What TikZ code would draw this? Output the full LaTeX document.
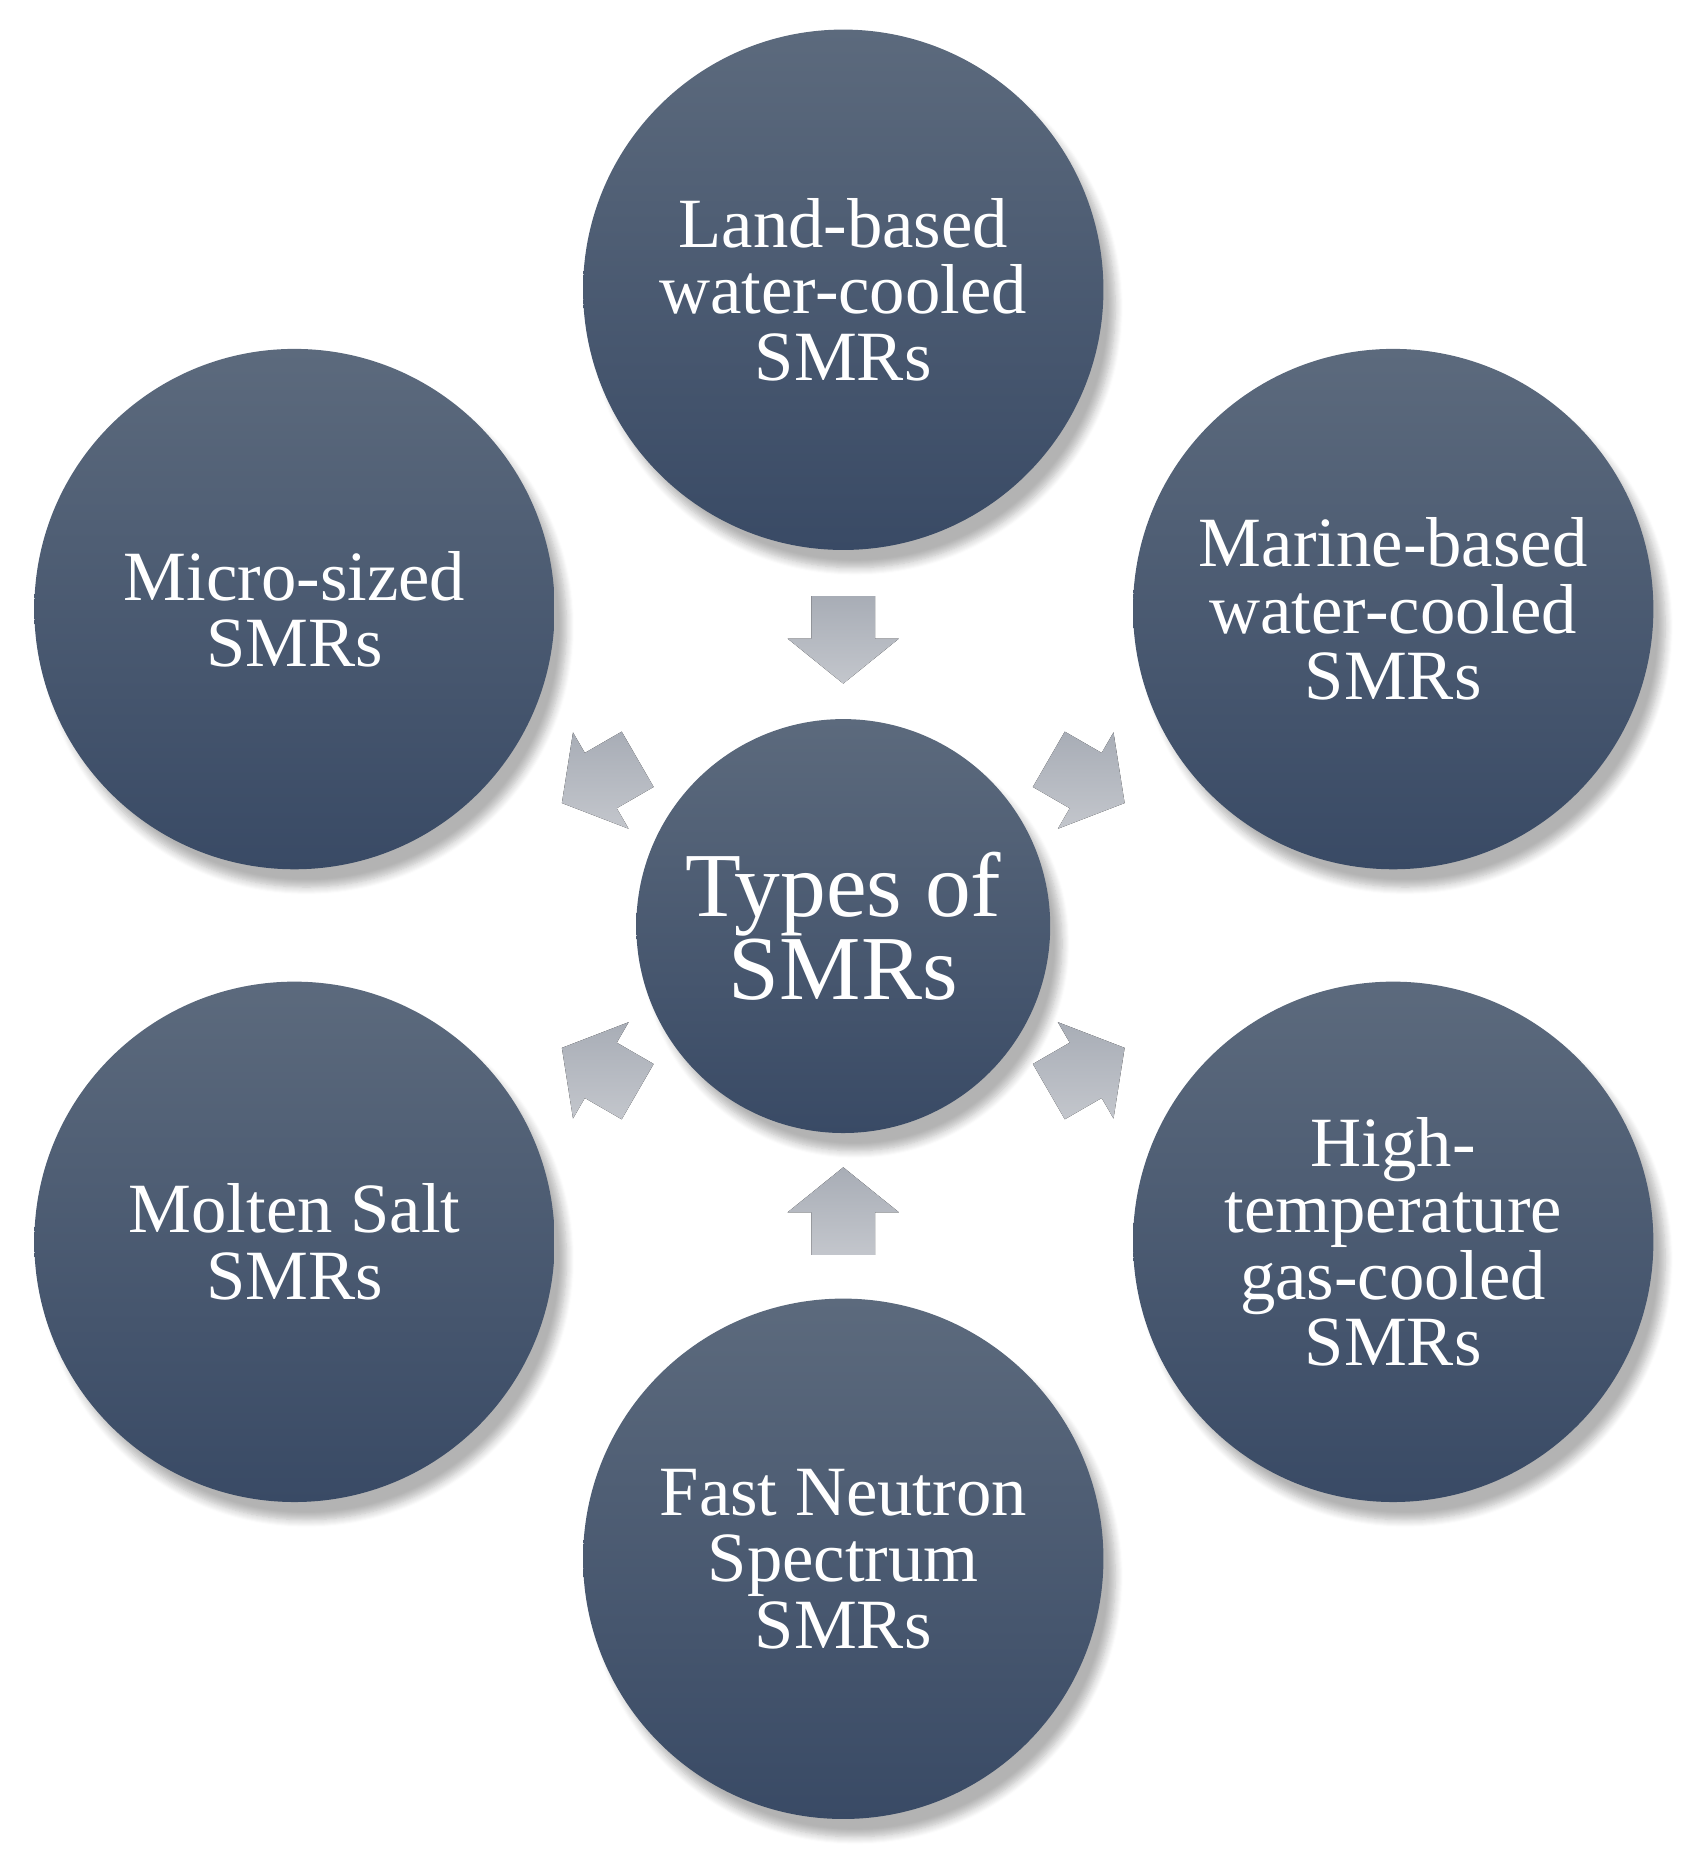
\documentclass[tikz,border=0pt]{standalone}
\usepackage{fontspec}
\setmainfont{Liberation Serif}
\usetikzlibrary{shadows.blur}
\begin{document}
\begin{tikzpicture}[x=0.1mm,y=-0.1mm,
  circ/.style={circle,draw=none,top color=circTop,bottom color=circBot,text=white,align=center,
    blur shadow={shadow xshift=1mm,shadow yshift=-1.5mm,shadow blur steps=8,shadow opacity=30},
    font=\fontsize{17}{16}\selectfont},
  arr/.style={top color=arrTop,bottom color=arrBot,draw=none}]
\definecolor{circTop}{HTML}{5C6A7D}
\definecolor{circBot}{HTML}{394A65}
\definecolor{arrTop}{HTML}{A8ADB6}
\definecolor{arrBot}{HTML}{C3C6CC}
\useasboundingbox (0,0) rectangle (1424,1571);
\node[circ,minimum size=35mm,font=\fontsize{22}{20}\selectfont] (c) at (713,783) {Types of\\SMRs};
\node[circ,minimum size=44mm] (n1) at (713,245) {Land-based\\water-cooled\\SMRs};
\node[circ,minimum size=44mm] (n2) at (1178,515) {Marine-based\\water-cooled\\SMRs};
\node[circ,minimum size=44mm] (n3) at (1178,1050) {High-\\temperature\\gas-cooled\\SMRs};
\node[circ,minimum size=44mm] (n4) at (713,1318) {Fast Neutron\\Spectrum\\SMRs};
\node[circ,minimum size=44mm] (n5) at (249,1050) {Molten Salt\\SMRs};
\node[circ,minimum size=44mm] (n6) at (249,515) {Micro-sized\\SMRs};
\foreach \px/\py/\a in {713/540/90,918/660/30,918/905/-30,713/1025/-90,508/905/-150,508/660/150}{
  \begin{scope}[shift={(\px,\py)},rotate=-\a]
    \fill[arr] (-36,-27) -- (0,-27) -- (0,-47) -- (38,0) -- (0,47) -- (0,27) -- (-36,27) -- cycle;
  \end{scope}
}
\end{tikzpicture}
\end{document}
